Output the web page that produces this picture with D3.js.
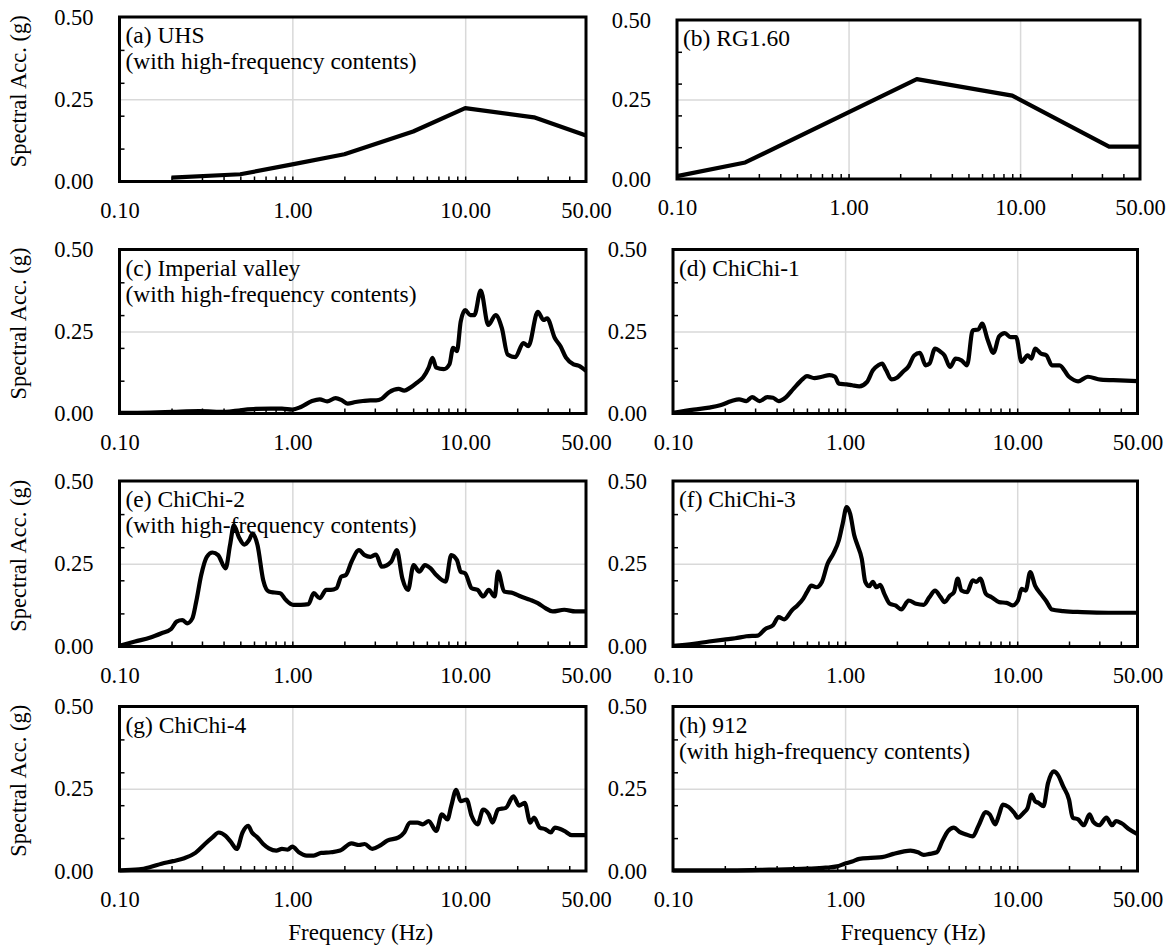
<!DOCTYPE html>
<html lang="en">
  <head>
    <meta charset="utf-8">
    <script type="text/javascript" src="https://d3js.org/d3.v7.min.js"></script>
    <title>Spectral acceleration of input motions</title>
    <style>
      body { margin: 0; background: #fff; }
      .grid line { stroke: #d9d9d9; stroke-width: 1.5; }
      .grid path, .lab path, .minor path { display: none; }
      .minor line { stroke: #000; stroke-width: 1.5; }
    </style>
  </head>
  <body>
    <script type="text/javascript">

    var FONT = "'Liberation Serif', 'Times New Roman', Times, serif";

    // axis values
    var xTicks = [0.1, 1, 10, 50];
    var xMinor = [0.2, 0.3, 0.4, 0.5, 0.6, 0.7, 0.8, 0.9, 2, 3, 4, 5, 6, 7, 8, 9, 20, 30, 40];
    var yTicks = [0, 0.25, 0.5];
    var yMinor = [0.1, 0.2, 0.3, 0.4];

    // spectra: [frequency (Hz), spectral acc. (g)]
    var uhs = [[0.2,0.012],[0.5,0.022],[1,0.052],[2,0.083],[5,0.152],[10,0.223],[25,0.195],[50,0.14]];

    var rg160 = [[0.1,0.009],[0.25,0.052],[2.5,0.314],[9,0.262],[33,0.102],[50,0.102]];

    var imperial = [[0.1,0.002],[0.151,0.003],[0.204,0.005],[0.289,0.007],[0.411,0.005],[0.502,0.01],[0.614,0.014],
      [0.75,0.015],[0.871,0.015],[1.0,0.012],[1.12,0.02],[1.3,0.038],[1.44,0.043],[1.59,0.037],[1.78,0.047],[1.94,0.04],
      [2.09,0.03],[2.32,0.035],[2.56,0.038],[2.83,0.04],[3.05,0.04],[3.29,0.045],[3.63,0.065],[4.12,0.075],[4.44,0.07],
      [4.79,0.078],[5.29,0.095],[5.7,0.11],[6.15,0.14],[6.47,0.17],[6.8,0.14],[7.52,0.135],[8.11,0.15],[8.51,0.2],
      [8.96,0.19],[9.42,0.28],[10.0,0.315],[10.7,0.3],[11.3,0.3],[12.3,0.375],[13.6,0.27],[15.0,0.3],[16.3,0.26],
      [17.6,0.18],[19.5,0.172],[21.7,0.215],[23.2,0.205],[26.3,0.31],[28.4,0.285],[29.8,0.29],[33.0,0.23],[35.6,0.205],
      [38.3,0.17],[42.4,0.15],[45.6,0.145],[50,0.13]];

    var chichi1 = [[0.1,0.002],[0.132,0.012],[0.162,0.018],[0.188,0.025],[0.219,0.038],[0.242,0.043],[0.267,0.038],
      [0.288,0.05],[0.319,0.038],[0.353,0.05],[0.381,0.048],[0.411,0.038],[0.454,0.05],[0.502,0.076],[0.57,0.106],
      [0.6,0.114],[0.663,0.108],[0.733,0.112],[0.811,0.117],[0.875,0.112],[0.92,0.091],[1.02,0.089],[1.1,0.086],
      [1.21,0.083],[1.34,0.096],[1.45,0.132],[1.56,0.147],[1.64,0.152],[1.73,0.132],[1.86,0.104],[2.01,0.11],
      [2.17,0.127],[2.34,0.144],[2.52,0.177],[2.72,0.185],[2.94,0.147],[3.09,0.152],[3.33,0.198],[3.59,0.188],
      [3.78,0.177],[4.07,0.142],[4.39,0.167],[4.74,0.162],[5.11,0.147],[5.52,0.254],[5.95,0.256],[6.25,0.274],
      [6.75,0.223],[7.28,0.185],[7.85,0.235],[8.47,0.245],[9.14,0.233],[9.85,0.233],[10.6,0.157],[11.5,0.177],
      [12.1,0.167],[12.7,0.198],[13.7,0.183],[14.8,0.177],[15.9,0.147],[17.6,0.147],[20.0,0.112],[22.6,0.098],
      [25.7,0.112],[30.6,0.103],[39.4,0.101],[50,0.099]];

    var chichi2 = [[0.1,0.002],[0.123,0.015],[0.151,0.027],[0.175,0.04],[0.199,0.053],[0.214,0.075],[0.231,0.08],
      [0.246,0.07],[0.264,0.085],[0.278,0.136],[0.297,0.216],[0.32,0.271],[0.345,0.284],[0.372,0.276],[0.411,0.236],
      [0.436,0.306],[0.459,0.366],[0.49,0.331],[0.528,0.308],[0.561,0.321],[0.589,0.341],[0.629,0.306],[0.678,0.201],
      [0.731,0.166],[0.788,0.163],[0.85,0.161],[0.916,0.141],[1.01,0.126],[1.12,0.126],[1.24,0.128],[1.33,0.161],
      [1.44,0.146],[1.57,0.171],[1.67,0.171],[1.8,0.176],[1.92,0.211],[2.04,0.216],[2.2,0.256],[2.43,0.291],
      [2.62,0.276],[2.83,0.271],[3.05,0.278],[3.29,0.241],[3.73,0.256],[4.02,0.291],[4.33,0.206],[4.67,0.171],
      [5.03,0.246],[5.42,0.226],[5.85,0.246],[6.31,0.236],[6.8,0.216],[7.71,0.196],[8.3,0.276],[8.96,0.261],
      [9.42,0.226],[10.0,0.221],[10.9,0.176],[11.8,0.171],[12.7,0.151],[13.7,0.171],[14.8,0.151],[15.5,0.226],
      [16.8,0.166],[19.0,0.161],[21.0,0.151],[23.8,0.141],[26.3,0.131],[29.1,0.116],[32.1,0.106],[37.4,0.111],
      [43.4,0.106],[50,0.106]];

    var chichi3 = [[0.1,0.002],[0.132,0.008],[0.162,0.015],[0.198,0.021],[0.23,0.025],[0.267,0.031],[0.311,0.033],
      [0.344,0.053],[0.381,0.064],[0.411,0.089],[0.443,0.082],[0.49,0.109],[0.528,0.124],[0.57,0.144],[0.6,0.164],
      [0.637,0.184],[0.68,0.179],[0.733,0.195],[0.791,0.25],[0.853,0.28],[0.92,0.321],[0.968,0.371],[1.02,0.421],
      [1.07,0.401],[1.13,0.336],[1.18,0.306],[1.25,0.265],[1.31,0.195],[1.38,0.182],[1.45,0.195],[1.52,0.179],
      [1.6,0.186],[1.69,0.159],[1.82,0.129],[1.96,0.124],[2.12,0.112],[2.34,0.139],[2.59,0.129],[2.86,0.126],
      [3.09,0.149],[3.33,0.169],[3.59,0.149],[3.78,0.134],[4.07,0.154],[4.29,0.164],[4.51,0.205],[4.74,0.169],
      [5.11,0.164],[5.52,0.2],[5.8,0.195],[6.1,0.205],[6.58,0.159],[7.1,0.149],[7.85,0.134],[8.68,0.132],[9.37,0.124],
      [10.1,0.139],[10.6,0.174],[11.2,0.169],[11.9,0.225],[12.7,0.184],[13.7,0.159],[14.8,0.136],[15.9,0.112],
      [18.5,0.107],[23.8,0.104],[33.9,0.102],[50,0.102]];

    var chichi4 = [[0.1,0.002],[0.13,0.005],[0.151,0.012],[0.175,0.022],[0.204,0.03],[0.237,0.039],[0.275,0.055],
      [0.312,0.082],[0.345,0.102],[0.375,0.117],[0.411,0.107],[0.443,0.087],[0.477,0.067],[0.515,0.117],[0.555,0.137],
      [0.584,0.117],[0.629,0.102],[0.678,0.082],[0.731,0.069],[0.808,0.062],[0.871,0.067],[0.939,0.065],[1.0,0.074],
      [1.09,0.057],[1.21,0.047],[1.33,0.047],[1.47,0.055],[1.67,0.057],[1.89,0.062],[2.2,0.084],[2.43,0.079],
      [2.62,0.082],[2.9,0.067],[3.21,0.077],[3.54,0.092],[4.12,0.102],[4.44,0.117],[4.79,0.147],[5.29,0.147],
      [5.7,0.142],[6.15,0.152],[6.8,0.122],[7.33,0.172],[7.9,0.157],[8.3,0.197],[8.87,0.247],[9.42,0.212],
      [10.2,0.217],[10.9,0.167],[11.8,0.142],[12.7,0.187],[13.7,0.172],[14.4,0.147],[15.5,0.187],[17.2,0.192],
      [19.0,0.227],[20.5,0.199],[22.1,0.207],[23.8,0.147],[25.0,0.162],[27.0,0.132],[29.1,0.127],[31.3,0.117],
      [33.0,0.132],[37.4,0.122],[41.3,0.109],[50,0.109]];

    var m912 = [[0.1,0.002],[0.219,0.002],[0.362,0.004],[0.6,0.007],[0.771,0.01],[0.897,0.014],[0.993,0.022],
      [1.1,0.029],[1.21,0.037],[1.41,0.04],[1.64,0.042],[1.91,0.052],[2.17,0.059],[2.4,0.062],[2.65,0.057],
      [2.86,0.049],[3.09,0.052],[3.41,0.057],[3.68,0.092],[3.97,0.122],[4.29,0.132],[4.62,0.119],[4.99,0.112],
      [5.52,0.105],[5.95,0.137],[6.58,0.179],[6.92,0.172],[7.46,0.142],[7.85,0.172],[8.26,0.202],[8.9,0.195],
      [9.6,0.177],[10.1,0.162],[10.9,0.177],[11.5,0.192],[12.1,0.232],[12.7,0.212],[13.3,0.207],[14.2,0.197],
      [15.1,0.267],[16.3,0.303],[17.2,0.293],[18.5,0.257],[20.0,0.217],[21.0,0.162],[22.6,0.157],[24.4,0.139],
      [26.3,0.172],[27.7,0.149],[29.9,0.139],[33.0,0.162],[35.6,0.139],[37.5,0.152],[40.4,0.145],[44.7,0.127],
      [50,0.112]];

    var titles = [
      ["(a) UHS", "(with high-frequency contents)"],
      ["(b) RG1.60"],
      ["(c) Imperial valley", "(with high-frequency contents)"],
      ["(d) ChiChi-1"],
      ["(e) ChiChi-2", "(with high-frequency contents)"],
      ["(f) ChiChi-3"],
      ["(g) ChiChi-4"],
      ["(h) 912", "(with high-frequency contents)"]
    ];
    var series = [uhs, rg160, imperial, chichi1, chichi2, chichi3, chichi4, m912];
    var smooth = [false, false, true, true, true, true, true, true];

    // plot boxes (left, right, top, bottom)
    var boxes = [
      {l:119.5, r:586,  t:17,  b:181.5},
      {l:677,   r:1140, t:20,  b:179},
      {l:119.5, r:586,  t:249.5, b:413.5},
      {l:673,   r:1137.5, t:249.5, b:413.5},
      {l:119.5, r:586,  t:481, b:646.5},
      {l:673,   r:1137.5, t:481, b:646.5},
      {l:119.5, r:586,  t:706.5, b:871},
      {l:673,   r:1137.5, t:706.5, b:871}
    ];

    var svg = d3.select("body").append("svg")
        .attr("width", 1172)
        .attr("height", 946)
        .attr("font-family", FONT)
        .attr("font-size", 22);

    function styleText(sel, size) {
      sel.attr("font-family", FONT).attr("font-size", size || 22.5).attr("fill", "#000");
    }

    series.forEach(function(data, i) {
      var b = boxes[i];
      var x = d3.scaleLog().domain([0.1, 50]).range([b.l, b.r]);
      var y = d3.scaleLinear().domain([0, 0.5]).range([b.b, b.t]);
      var g = svg.append("g");

      // gridlines
      g.append("g").attr("class", "grid")
        .attr("transform", "translate(0," + b.b + ")")
        .call(d3.axisBottom(x).tickValues([1, 10]).tickSize(-(b.b - b.t)).tickFormat(""));
      g.append("g").attr("class", "grid")
        .attr("transform", "translate(" + b.l + ",0)")
        .call(d3.axisLeft(y).tickValues([0.25]).tickSize(-(b.r - b.l)).tickFormat(""));

      // minor ticks, pointing inside
      g.append("g").attr("class", "minor")
        .attr("transform", "translate(0," + b.b + ")")
        .call(d3.axisBottom(x).tickValues(xMinor.concat([1, 10])).tickSize(-5).tickFormat(""));
      g.append("g").attr("class", "minor")
        .attr("transform", "translate(" + b.l + ",0)")
        .call(d3.axisLeft(y).tickValues(yMinor).tickSize(-5).tickFormat(""));

      // tick labels
      var xa = g.append("g").attr("class", "lab")
        .attr("transform", "translate(0," + b.b + ")")
        .call(d3.axisBottom(x).tickValues(xTicks).tickSize(0).tickPadding(20.5).tickFormat(d3.format(".2f")));
      var ya = g.append("g").attr("class", "lab")
        .attr("transform", "translate(" + b.l + ",0)")
        .call(d3.axisLeft(y).tickValues(yTicks).tickSize(0).tickPadding(26).tickFormat(d3.format(".2f")));
      xa.attr("font-family", FONT).attr("font-size", 22.5);
      ya.attr("font-family", FONT).attr("font-size", 22.5);
      styleText(xa.selectAll("text"), 22.5);
      styleText(ya.selectAll("text"), 22.5);

      // spectrum
      var line = d3.line()
        .x(function(d) { return x(d[0]); })
        .y(function(d) { return y(d[1]); })
        .curve(smooth[i] ? d3.curveMonotoneX : d3.curveLinear);
      g.append("path")
        .datum(data)
        .attr("d", line)
        .attr("fill", "none")
        .attr("stroke", "#000")
        .attr("stroke-width", 4.2)
        .attr("stroke-linejoin", "round");

      // frame
      g.append("rect")
        .attr("x", b.l).attr("y", b.t)
        .attr("width", b.r - b.l).attr("height", b.b - b.t)
        .attr("fill", "none").attr("stroke", "#000").attr("stroke-width", 3);

      // panel title
      titles[i].forEach(function(t, k) {
        g.append("text")
          .attr("x", b.l + 6)
          .attr("y", b.t + 26 + k * 26)
          .call(styleText, 23.5)
          .text(t);
      });

      // axis titles
      if (i % 2 === 0) {
        g.append("text")
          .attr("transform", "translate(26," + ((b.t + b.b) / 2 - 8) + ") rotate(-90)")
          .attr("text-anchor", "middle")
          .call(styleText, 22.5)
          .text("Spectral Acc. (g)");
      }
      if (i >= 6) {
        g.append("text")
          .attr("x", (b.l + b.r) / 2 + 8)
          .attr("y", 940)
          .attr("text-anchor", "middle")
          .call(styleText, 23)
          .text("Frequency (Hz)");
      }
    });

    </script>
  </body>
</html>
